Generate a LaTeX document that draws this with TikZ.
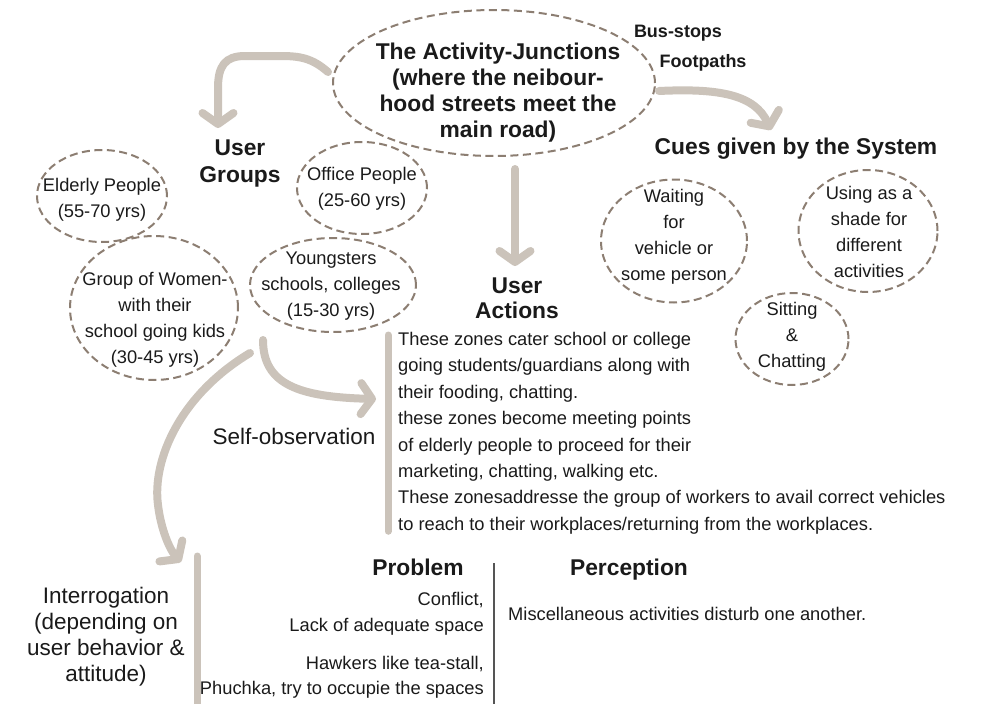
\documentclass[tikz,border=0pt]{standalone}
\usepackage{fontspec}
\setmainfont{Liberation Sans}
\usetikzlibrary{shapes.geometric,arrows.meta}

\definecolor{ink}{HTML}{1A1A1A}
\definecolor{dashbrown}{HTML}{8C7E72}
\definecolor{taupe}{HTML}{CBC3BA}
\definecolor{rulegray}{HTML}{555555}

\tikzset{
  bubble/.style={ellipse, draw=dashbrown, line width=2pt, dash pattern=on 8pt off 4.5pt, inner sep=0pt},
  plain/.style={text=ink, inner sep=0pt, align=center, font=\fontsize{18.3}{26}\selectfont},
  heading/.style={text=ink, inner sep=0pt, align=center, font=\bfseries\fontsize{22.8}{26}\selectfont},
  subhead/.style={text=ink, inner sep=0pt, font=\bfseries\fontsize{18}{26}\selectfont},
  bigarrow/.style={draw=taupe, line width=8pt, line cap=round, -{Straight Barb[length=11pt, width=31pt, round]}},
  bar/.style={draw=taupe, line width=7pt, line cap=round},
}

\begin{document}
\begin{tikzpicture}[x=1pt, y=-1pt]
  \useasboundingbox (0,0) rectangle (989,704);
  % Draw the junction with its bus-stops and footpaths.
  \node[bubble, minimum width=322pt, minimum height=146pt] (junction) at (494,83) {};
  \node[heading] (junctext) at ([yshift=-10pt, xshift=4pt]junction.center) {The Activity-Junctions\\(where the neibour-\\hood streets meet the\\main road)};
  \node[subhead] (busstops) at (678,33) {Bus-stops};
  \node[subhead] (footpaths) at (703,63) {Footpaths};
  % Draw the user groups.
  \node[heading, font=\bfseries\fontsize{22.8}{27}\selectfont] (groups) at (240,164) {User\\Groups};
  \node[bubble, minimum width=130pt, minimum height=92pt] (elderly) at (102,196) {};
  \node[plain] (elderlytext) at ([yshift=-4pt]elderly.center) {Elderly People\\(55-70 yrs)};
  \node[bubble, minimum width=130pt, minimum height=92pt] (office) at (362,188) {};
  \node[plain] (officetext) at ([yshift=-1pt]office.center) {Office People\\(25-60 yrs)};
  \node[bubble, minimum width=168pt, minimum height=144pt] (women) at (154,308) {};
  \node[plain] (womentext) at ([yshift=-12pt, xshift=1pt]women.center) {Group of Women-\\with their\\school going kids\\(30-45 yrs)};
  \node[bubble, minimum width=166pt, minimum height=94pt] (young) at (333,285) {};
  \node[plain] (youngtext) at ([yshift=-1pt, xshift=-2pt]young.center) {Youngsters\\schools, colleges\\(15-30 yrs)};
  % Draw the cues given by the system.
  \node[heading] (cues) at (796,149) {Cues given by the System};
  \node[bubble, minimum width=146pt, minimum height=123pt] (waiting) at (674,241) {};
  \node[plain] (waitingtext) at ([yshift=4pt]waiting.center) {Waiting\\for\\vehicle or\\some person};
  \node[bubble, minimum width=139pt, minimum height=122pt] (shade) at (868,231) {};
  \node[plain] (shadetext) at ([xshift=1pt, yshift=-1pt]shade.center) {Using as a\\shade for\\different\\activities};
  \node[bubble, minimum width=113pt, minimum height=92pt] (sitting) at (792,339) {};
  \node[plain] (sittingtext) at ([yshift=2pt]sitting.center) {Sitting\\\&\\Chatting};
  % Draw the user actions and what the zones are used for.
  \node[heading, font=\bfseries\fontsize{22.8}{25}\selectfont] (actions) at (517,298) {User\\Actions};
  \node[plain, align=left, anchor=north west, font=\fontsize{18.3}{26.4}\selectfont] (actiontext) at (398,332)
    {These zones cater school or college\\going students/guardians along with\\their fooding, chatting.\\these zones become meeting points\\of elderly people to proceed for their\\marketing, chatting, walking etc.\\These zonesaddresse the group of workers to avail correct vehicles\\to reach to their workplaces/returning from the workplaces.};
  \draw[bar] ([shift={(-10,3)}]actiontext.north west) -- ([shift={(-10,-3)}]actiontext.south west);
  % Draw the two ways of looking at the users.
  \node[plain, font=\fontsize{22.5}{26}\selectfont] (observe) at (294,436) {Self-observation};
  \node[plain, font=\fontsize{22.5}{26}\selectfont] (interro) at (106,637) {Interrogation\\(depending on\\user behavior \&\\attitude)};
  % Draw the problems and the perception.
  \node[heading, anchor=base] (problem) at (418,575) {Problem};
  \node[heading, anchor=base] (perception) at (629,575) {Perception};
  \node[plain, align=right, anchor=east] (conflict) at (484,614) {Conflict,\\Lack of adequate space};
  \node[plain, align=right, anchor=east, font=\fontsize{18.3}{25}\selectfont] (hawkers) at (484,677) {Hawkers like tea-stall,\\Phuchka, try to occupie the spaces};
  \node[plain, anchor=west] (misc) at (508,614) {Miscellaneous activities disturb one another.};
  \coordinate (ruletop) at (494,563);
  \coordinate (rulebot) at (494,704);
  \draw[rulegray, line width=1.3pt] (ruletop) -- (rulebot);
  \coordinate (bartop) at (197,556);
  \coordinate (barbot) at (197,710);
  \draw[bar] (bartop) -- (barbot);
  % Draw the big arrows.
  \coordinate (groupsin) at (218,128);
  \coordinate (cuesin) at (771,130);
  \coordinate (actionsin) at (515,266);
  \coordinate (observestart) at (263,340);
  \coordinate (observein) at (376,399);
  \coordinate (interrostart) at (250,353);
  \coordinate (interroin) at (181,562);
  \draw[bigarrow] ([shift={(-4,-11)}]junction.west) .. controls (312,58) and (300,56) .. (280,56) -- (245,56)
    .. controls (225,56) and (218,66) .. (218,88) -- (groupsin);
  \draw[bigarrow] ([shift={(3,8)}]junction.east) .. controls (720,88) and (755,95) .. (cuesin);
  \draw[bigarrow] ([shift={(21,12)}]junction.south) -- (actionsin);
  \draw[bigarrow] (observestart) .. controls (263,385) and (300,397) .. (observein);
  \draw[bigarrow] (interrostart) .. controls (180,395) and (152,460) .. (158,505)
    .. controls (161,530) and (170,550) .. (interroin);
\end{tikzpicture}
\end{document}
